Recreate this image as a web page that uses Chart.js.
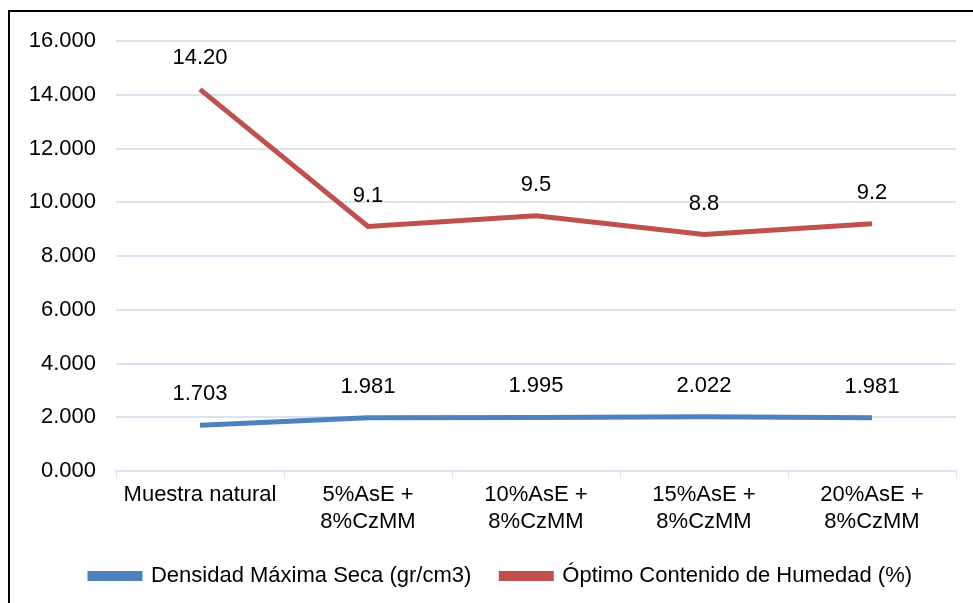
<!DOCTYPE html>
<html>
<head>
<meta charset="utf-8">
<script src="https://cdn.jsdelivr.net/npm/chart.js@4.4.0/dist/chart.umd.min.js"></script>
<style>
    html, body { margin: 0; padding: 0; background: #fff; overflow: hidden; }
    #wrap { position: relative; width: 973px; height: 603px; }
    #frame { position: absolute; left: 8px; top: 10px; width: 1000px; height: 700px;
             border-left: 2px solid #000; border-top: 2px solid #000; pointer-events: none; }
    canvas { position: absolute; left: 0; top: 0; }
</style>
</head>
<body>
<div id="wrap">
    <canvas id="chart" width="973" height="603"></canvas>
    <div id="frame"></div>
</div>
<script>
// categorias y valores
const categorias = ['Muestra natural', ['5%AsE +', '8%CzMM'], ['10%AsE +', '8%CzMM'], ['15%AsE +', '8%CzMM'], ['20%AsE +', '8%CzMM']];
const densidad = [1.703, 1.981, 1.995, 2.022, 1.981];
const humedad = [14.20, 9.1, 9.5, 8.8, 9.2];
const etiquetasDensidad = ['1.703', '1.981', '1.995', '2.022', '1.981'];
const etiquetasHumedad = ['14.20', '9.1', '9.5', '8.8', '9.2'];
const nombreDensidad = 'Densidad Máxima Seca (gr/cm3)';
const nombreHumedad = 'Óptimo Contenido de Humedad (%)';

const azul = '#4F81BD';
const rojo = '#C0504D';
const rejilla = '#D9E3F1';
const fuente = { family: "'Liberation Sans', Arial, sans-serif", size: 22 };

// plugin para las etiquetas sobre cada punto
const etiquetas = {
    id: 'etiquetas',
    afterDatasetsDraw(chart) {
        const ctx = chart.ctx;
        const textos = [etiquetasDensidad, etiquetasHumedad];
        ctx.save();
        ctx.font = '22px ' + fuente.family;
        ctx.fillStyle = '#000';
        ctx.textAlign = 'center';
        ctx.textBaseline = 'middle';
        chart.data.datasets.forEach((ds, i) => {
            chart.getDatasetMeta(i).data.forEach((pt, j) => {
                ctx.fillText(textos[i][j], pt.x, pt.y - 31);
            });
        });
        ctx.restore();
    }
};

// altura fija de la leyenda y corrimiento a la derecha
const ajusteLeyenda = {
    id: 'ajusteLeyenda',
    beforeInit(chart) {
        const fitOriginal = chart.legend.fit;
        chart.legend.fit = function () {
            fitOriginal.call(this);
            this.height = 63;
        };
    },
    afterLayout(chart) {
        chart.legend.left += 46;
    }
};

Chart.defaults.font = fuente;
Chart.defaults.color = '#000';

new Chart(document.getElementById('chart').getContext('2d'), {
    type: 'line',
    data: {
        labels: categorias,
        datasets: [
            { label: nombreDensidad, data: densidad, borderColor: azul, backgroundColor: azul,
              borderWidth: 5, pointRadius: 0, tension: 0 },
            { label: nombreHumedad, data: humedad, borderColor: rojo, backgroundColor: rojo,
              borderWidth: 5, pointRadius: 0, tension: 0 }
        ]
    },
    options: {
        responsive: false,
        animation: false,
        layout: { padding: { top: 41, right: 17, bottom: 5, left: 0 } },
        scales: {
            x: {
                offset: true,
                grid: { drawOnChartArea: false, drawTicks: true, tickLength: 7, color: rejilla, offset: true },
                border: { display: true, color: rejilla, width: 2 },
                ticks: { padding: 4, maxRotation: 0, autoSkip: false, font: fuente },
                afterFit(scale) { scale.height = 64; }
            },
            y: {
                min: 0, max: 16,
                ticks: { stepSize: 2, padding: 20, font: fuente, callback: v => v.toFixed(3) },
                grid: { color: rejilla, lineWidth: 2, drawTicks: false },
                border: { display: false },
                afterFit(scale) { scale.width = 116; }
            }
        },
        plugins: {
            legend: {
                position: 'bottom',
                labels: { boxWidth: 50, boxHeight: 5, padding: 30, font: fuente }
            },
            tooltip: { enabled: false }
        }
    },
    plugins: [etiquetas, ajusteLeyenda]
});
</script>
</body>
</html>
